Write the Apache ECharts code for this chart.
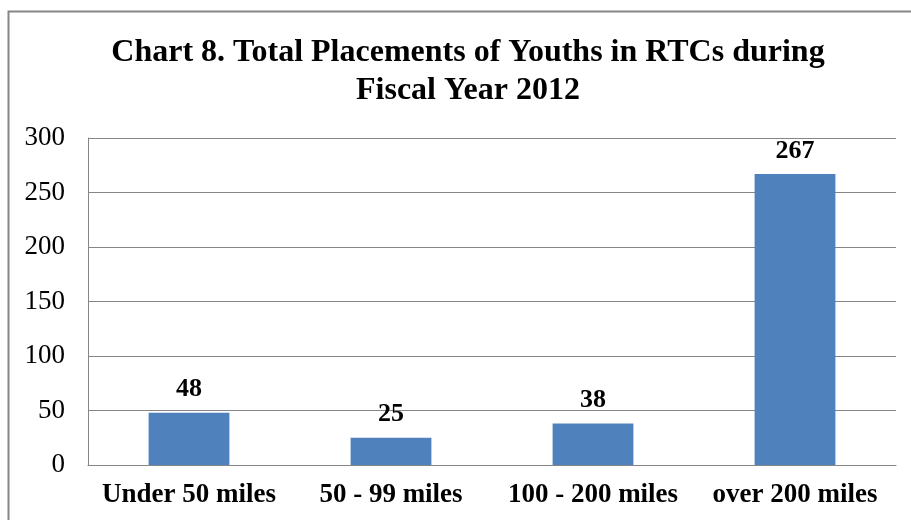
<!DOCTYPE html>
<html>
<head>
<meta charset="utf-8">
<script src="https://cdn.jsdelivr.net/npm/echarts@6/dist/echarts.min.js"></script>
<style>
  html, body { margin: 0; padding: 0; background: #fff; }
  #chart8 { width: 911px; height: 520px; }
</style>
</head>
<body>
<div id="chart8"></div>
<script>
  // distance groups and youth counts
  let categories = ['Under 50 miles', '50 - 99 miles', '100 - 200 miles', 'over 200 miles'];
  let placements = [48, 25, 38, 267];
  let yTicks = [0, 50, 100, 150, 200, 250, 300];

  let font = '"Liberation Serif", "Times New Roman", serif';
  let myChart = echarts.init(document.getElementById('chart8'));
  const option = {
    animation: false,
    title: {
      text: 'Chart 8. Total Placements of Youths in RTCs during\nFiscal Year 2012',
      left: 463,
      textAlign: 'center',
      top: 29,
      textStyle: {
        fontFamily: font,
        fontWeight: 'bold',
        fontSize: 32,
        lineHeight: 38,
        color: '#000'
      }
    },
    graphic: [{
      type: 'rect',
      shape: { x: 8.5, y: 11.5, width: 930, height: 540 },
      style: { fill: 'none', stroke: '#868686', lineWidth: 2 },
      silent: true
    }],
    grid: { left: 88, right: 15, top: 138, bottom: 55 },
    xAxis: {
      type: 'category',
      data: categories,
      axisLine: { lineStyle: { color: '#868686', width: 1 } },
      axisTick: { show: false },
      axisLabel: {
        interval: 0,
        margin: 17,
        fontFamily: font,
        fontWeight: 'bold',
        fontSize: 27,
        color: '#000'
      }
    },
    yAxis: {
      type: 'value',
      min: yTicks[0],
      max: yTicks[yTicks.length - 1],
      interval: 50,
      axisLine: { show: true, lineStyle: { color: '#868686', width: 1 } },
      axisTick: { show: false },
      splitLine: { lineStyle: { color: '#868686', width: 1 } },
      axisLabel: {
        margin: 23,
        fontFamily: font,
        fontSize: 27,
        color: '#000'
      }
    },
    series: [{
      name: 'Placements',
      type: 'bar',
      data: placements,
      barWidth: '40%',
      itemStyle: { color: '#4F81BD' },
      label: {
        show: true,
        position: 'top',
        distance: 10,
        fontFamily: font,
        fontWeight: 'bold',
        fontSize: 26,
        color: '#000'
      }
    }]
  };
  myChart.setOption(option);
</script>
</body>
</html>
